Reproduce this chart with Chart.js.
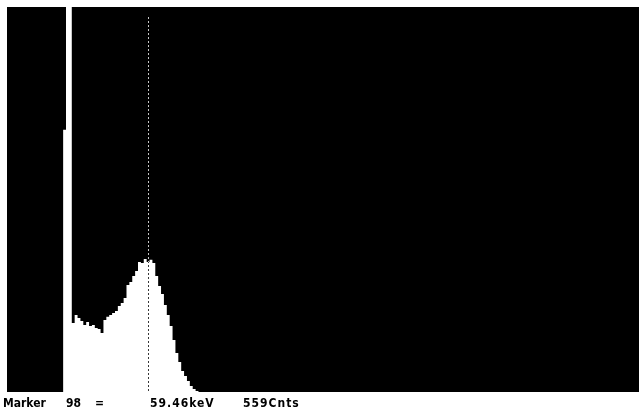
<!DOCTYPE html>
<html>
<head>
<meta charset="utf-8">
<script src="https://cdn.jsdelivr.net/npm/chart.js@4"></script>
<style>
    html, body { margin: 0; padding: 0; background: #fff; }
    #wrap { position: relative; width: 639px; height: 411px; }
    #spectrum { position: absolute; left: 0; top: 0; }
    .lbl {
        position: absolute;
        top: 396px;
        font-family: "Liberation Sans Narrow", "DejaVu Sans Condensed", "Liberation Sans", sans-serif;
        font-weight: bold;
        font-size: 12px;
        color: #000;
        white-space: pre;
    }
    .wide { letter-spacing: 1px; }
</style>
</head>
<body>
<div id="wrap">
    <canvas id="spectrum" width="639" height="411"></canvas>
    <span class="lbl" style="left:3px">Marker</span>
    <span class="lbl" style="left:66px">98</span>
    <span class="lbl" style="left:95px">=</span>
    <span class="lbl wide" style="left:150px">59.46keV</span>
    <span class="lbl wide" style="left:243px">559Cnts</span>
</div>
<script>
// spectrum, every 2 channels
const channels = [38, 40, 42, 44, 46, 48, 50, 52, 54, 56, 58, 60, 62, 64, 66, 68, 70, 72, 74, 76,
    78, 80, 82, 84, 86, 88, 90, 92, 94, 96, 98, 100, 102, 104, 106, 108, 110, 112, 114, 116,
    118, 120, 122, 124, 126, 128, 130, 132, 134, 136];
const counts = [0, 1127, 1700, 1700, 297, 331, 318, 305, 288, 301, 284, 288, 275, 271, 254, 310, 323, 331, 340, 348,
    370, 383, 404, 460, 473, 499, 520, 559, 555, 572, 559, 568, 555, 499, 456, 421, 374, 331, 284, 224,
    168, 129, 90, 69, 47, 26, 13, 4, 0, 0];

const markerChannel = 98;
const xMax = 439;
const yMax = 1655;

const chartBg = {
    id: 'chartBg',
    beforeDraw(chart) {
        const { ctx, chartArea: a } = chart;
        ctx.save();
        ctx.fillStyle = '#000';
        ctx.fillRect(a.left, a.top, a.right - a.left, a.bottom - a.top);
        ctx.restore();
    }
};

// dotted grey over black, dark over the white fill
const markerLine = {
    id: 'markerLine',
    afterDatasetsDraw(chart) {
        const { ctx, chartArea: a, scales } = chart;
        const x = Math.round(scales.x.getPixelForValue(markerChannel)) + 0.5;
        ctx.save();
        ctx.globalCompositeOperation = 'difference';
        ctx.strokeStyle = '#c8c8c8';
        ctx.lineWidth = 1;
        ctx.setLineDash([2, 2]);
        ctx.beginPath();
        ctx.moveTo(x, a.top + 10);
        ctx.lineTo(x, a.bottom);
        ctx.stroke();
        ctx.restore();
    }
};

new Chart(document.getElementById('spectrum').getContext('2d'), {
    type: 'line',
    data: {
        datasets: [{
            data: channels.map((c, i) => ({ x: c, y: counts[i] })),
            stepped: 'middle',
            fill: 'origin',
            backgroundColor: '#fff',
            borderColor: '#fff',
            borderWidth: 0,
            pointRadius: 0
        }]
    },
    options: {
        responsive: false,
        animation: false,
        events: [],
        layout: { padding: { left: 7, top: 7, right: 0, bottom: 19 } },
        plugins: {
            legend: { display: false },
            tooltip: { enabled: false }
        },
        scales: {
            x: { type: 'linear', min: 0, max: xMax, display: false },
            y: { min: 0, max: yMax, display: false }
        }
    },
    plugins: [chartBg, markerLine]
});
</script>
</body>
</html>
